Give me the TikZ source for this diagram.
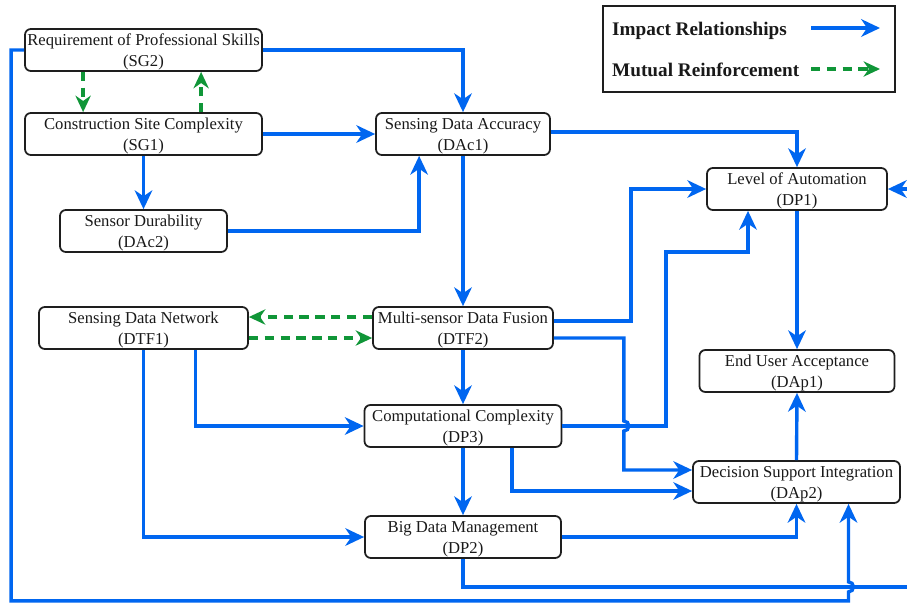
\documentclass[tikz,border=0pt]{standalone}
\usepackage{fontspec}
\setmainfont{Liberation Serif}
\usetikzlibrary{arrows.meta,calc}
\definecolor{impblue}{RGB}{0,102,240}
\definecolor{mutgreen}{RGB}{16,150,56}
\definecolor{boxline}{RGB}{30,30,30}
% two-line box label with a taller first line so the text sits centred
\newcommand{\boxlabel}[2]{\rule{0pt}{14pt}#1\\#2}
\begin{document}
\begin{tikzpicture}[x=0.03cm,y=-0.03cm,
  box/.style={draw=boxline, line width=1.5pt, rounded corners=5pt, fill=white,
    align=center, minimum height=1.26cm, inner xsep=1pt, inner ysep=0pt,
    font=\fontsize{14.2}{17.9}\selectfont, text=black!90},
  imp/.style={draw=impblue, line width=2.9pt,
    -{Stealth[length=16pt,width=15pt,inset=5pt]}},
  mut/.style={draw=mutgreen, line width=2.9pt, dash pattern=on 8pt off 5.5pt,
    -{Stealth[length=14pt,width=13pt,inset=4.5pt]}},
  legtext/.style={font=\bfseries\fontsize{16.4}{20}\selectfont, inner sep=0pt,
    anchor=base west, text=black!90}]

\useasboundingbox (0,0) rectangle (907,605);
\fill[white] (0,0) rectangle (907,605);
\clip (0,0) rectangle (907,605);

% factor boxes
\node[box, minimum width=7.11cm] (sg2)  at (143.5,50)  {\boxlabel{Requirement of Professional Skills}{(SG2)}};
\node[box, minimum width=7.11cm] (sg1)  at (143.5,134) {\boxlabel{Construction Site Complexity}{(SG1)}};
\node[box, minimum width=5.22cm] (dac1) at (463,134)   {\boxlabel{Sensing Data Accuracy}{(DAc1)}};
\node[box, minimum width=5.01cm] (dac2) at (143.5,231) {\boxlabel{Sensor Durability}{(DAc2)}};
\node[box, minimum width=5.40cm] (dp1)  at (797,189)   {\boxlabel{Level of Automation}{(DP1)}};
\node[box, minimum width=6.27cm] (dtf1) at (143.5,328) {\boxlabel{Sensing Data Network}{(DTF1)}};
\node[box, minimum width=5.40cm] (dtf2) at (463,328)   {\boxlabel{Multi-sensor Data Fusion}{(DTF2)}};
\node[box, minimum width=5.85cm] (dap1) at (797,371)   {\boxlabel{End User Acceptance}{(DAp1)}};
\node[box, minimum width=5.91cm] (dp3)  at (463,426)   {\boxlabel{Computational Complexity}{(DP3)}};
\node[box, minimum width=6.21cm] (dap2) at (796.5,482) {\boxlabel{Decision Support Integration}{(DAp2)}};
\node[box, minimum width=5.88cm] (dp2)  at (463,537)   {\boxlabel{Big Data Management}{(DP2)}};

% legend
\node[draw=boxline, line width=1.5pt, minimum width=8.76cm, minimum height=2.58cm,
  inner sep=0pt] (legend) at (749,49) {};
\node[legtext] (limp) at (612,35) {Impact Relationships};
\node[legtext] (lmut) at (612,76) {Mutual Reinforcement};
\coordinate (ia) at (811,28);
\coordinate (ib) at (880,28);
\coordinate (ma) at (811,69);
\coordinate (mb) at (880,69);
\draw[imp] (ia) -- (ib);
\draw[mut] (ma) -- (mb);

% mutual reinforcement links
\draw[mut] ($(sg2.south west)+(59,0)$) -- ($(sg1.north west)+(59,0)$);
\draw[mut] ($(sg1.north west)+(177,0)$) -- ($(sg2.south west)+(177,0)$);
\draw[mut] ($(dtf2.west)+(0,-11)$) -- ($(dtf1.east)+(0,-11)$);
\draw[mut] ($(dtf1.east)+(0,10)$) -- ($(dtf2.west)+(0,10)$);

% impact relationships
\draw[imp] (sg2.east) -| (dac1.north);
\draw[imp] (sg1.east) -- (dac1.west);
\draw[imp] (sg1.south) -- (dac2.north);
\draw[imp] (dac2.east) -| ($(dac1.south west)+(44,0)$);
\draw[imp] ($(dac1.east)+(0,-2)$) -| (dp1.north);
\draw[imp] (dac1.south) -- (dtf2.north);
\draw[imp] ($(dtf2.east)+(0,-7)$) -- ++(77,0) |- (dp1.west);
\draw[imp] ($(dtf2.east)+(0,10)$) -- ++(70,0) coordinate (fuse)
  -- ($(fuse |- dp3.east)+(0,-5)$) arc[start angle=90,end angle=-90,radius=0.15cm]
  |- ($(dap2.west)+(0,-12)$);
\draw[imp] (dtf2.south) -- (dp3.north);
\draw[imp] ($(dtf1.south)+(52,0)$) |- (dp3.west);
\draw[imp] (dtf1.south) |- (dp2.west);
\draw[imp] (dp3.east) -- ++(103.5,0) |- ($(dp1.south)+(-49,41)$) -- ($(dp1.south)+(-49,0)$);
\draw[imp] (dp3.south) -- (dp2.north);
\draw[imp] ($(dp3.south)+(49,0)$) |- ($(dap2.west)+(0,9)$);
\draw[imp] (dp2.east) -| (dap2.south);
\draw[imp] (dp1.south) -- (dap1.north);
\draw[imp] (dap2.north) -- (dap1.south);
\draw[imp] (sg2.west) -- ++(-13,0) |- ($(dap2.south)+(52,97)$)
  -- ($(dap2.south)+(52,88)$) arc[start angle=-90,end angle=90,radius=0.15cm]
  -- ($(dap2.south)+(52,0)$);
\draw[imp] (dp2.south) -- ++(0,28) -- ++(480,0) |- (dp1.east);
\end{tikzpicture}
\end{document}
